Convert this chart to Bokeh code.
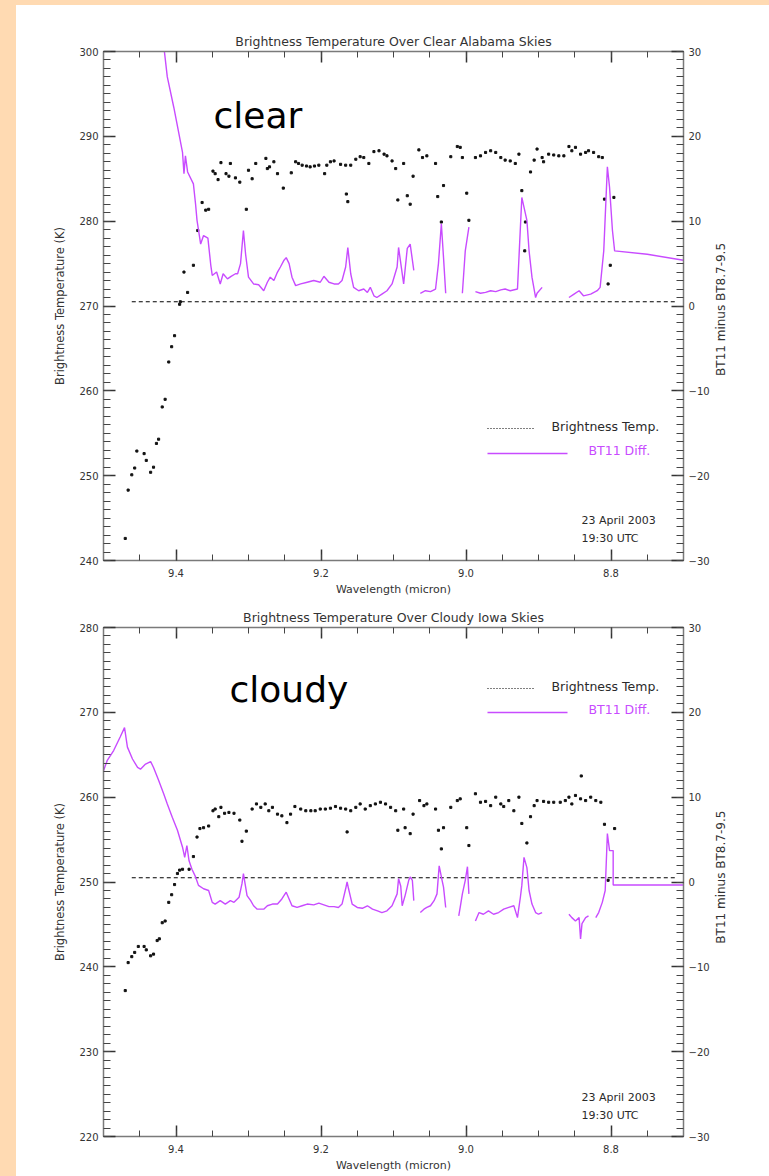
import math
import numpy as np
from bokeh.plotting import figure
from bokeh.models import Range1d, LinearAxis, FixedTicker, PrintfTickFormatter, Label, Div
from bokeh.layouts import row, column
from bokeh.embed import file_html
from bokeh.resources import INLINE

# ------------------------------------------------------------------ data
wl_major_ticks = [9.4, 9.2, 9.0, 8.8]
clear_bt_ticks = [240, 250, 260, 270, 280, 290, 300]
cloudy_bt_ticks = [220, 230, 240, 250, 260, 270, 280]
diff_ticks = [-30, -20, -10, 0, 10, 20, 30]
zero_line_level = 0.5
zero_line_extent = (9.461, 8.711)

# (wavelength micron, brightness temperature K) -- clear Alabama
clear_bt_pts = [
    (9.470, 242.6), (9.466, 248.3), (9.461, 250.1), (9.457, 250.9), (9.454, 252.9), (9.444, 252.6),
    (9.441, 251.8), (9.435, 250.4), (9.431, 251.0), (9.427, 253.8), (9.424, 254.3), (9.419, 258.1),
    (9.415, 259.0), (9.410, 263.4), (9.406, 265.2), (9.402, 266.5), (9.395, 270.2), (9.394, 270.5),
    (9.389, 274.0), (9.384, 271.6), (9.376, 274.8), (9.370, 278.9), (9.364, 282.2), (9.359, 281.3),
    (9.355, 281.4), (9.349, 285.9), (9.346, 285.6), (9.342, 284.9), (9.338, 286.9), (9.331, 285.6),
    (9.327, 285.3), (9.325, 286.8), (9.318, 285.1), (9.312, 284.6), (9.303, 281.4), (9.300, 286.0),
    (9.295, 285.0), (9.290, 286.8), (9.276, 287.4), (9.274, 286.2), (9.271, 286.4), (9.265, 287.0),
    (9.260, 285.6), (9.252, 283.9), (9.241, 285.7), (9.235, 287.0), (9.231, 286.8), (9.226, 286.6),
    (9.220, 286.5), (9.215, 286.4), (9.209, 286.5), (9.203, 286.6), (9.195, 285.6), (9.192, 286.6),
    (9.187, 287.0), (9.182, 287.1), (9.173, 286.7), (9.166, 286.6), (9.165, 283.2), (9.163, 282.3),
    (9.159, 286.6), (9.152, 287.3), (9.146, 287.6), (9.141, 287.5), (9.134, 286.8), (9.127, 288.2),
    (9.120, 288.3), (9.113, 287.9), (9.109, 287.7), (9.102, 287.1), (9.097, 286.2), (9.094, 282.5),
    (9.086, 286.8), (9.081, 283.0), (9.077, 282.0), (9.073, 285.3), (9.065, 288.4), (9.060, 287.5),
    (9.054, 287.7), (9.042, 286.8), (9.039, 282.9), (9.034, 279.9), (9.031, 284.2), (9.021, 287.6),
    (9.012, 288.8), (9.008, 288.7), (9.005, 287.5), (8.999, 283.3), (8.996, 280.1), (8.987, 287.5),
    (8.980, 287.7), (8.973, 288.1), (8.966, 288.3), (8.959, 288.1), (8.952, 287.5), (8.946, 287.2),
    (8.939, 287.1), (8.932, 286.8), (8.927, 287.9), (8.923, 283.6), (8.918, 279.9), (8.919, 276.5),
    (8.911, 285.8), (8.906, 287.2), (8.902, 288.5), (8.895, 287.5), (8.893, 287.0), (8.886, 287.9),
    (8.879, 287.8), (8.872, 287.7), (8.865, 287.7), (8.858, 288.8), (8.854, 288.3), (8.849, 288.7),
    (8.842, 287.9), (8.835, 288.1), (8.831, 288.3), (8.824, 288.1), (8.817, 287.6), (8.812, 287.5),
    (8.809, 282.6), (8.804, 272.6), (8.801, 274.8), (8.796, 282.8),
]

# (wavelength micron, BT11 minus BT8.7-9.5 K) -- clear Alabama; None = gap
clear_diff_pts = [
    (9.420, 33.0), (9.412, 27.0), (9.403, 23.4), (9.391, 18.1), (9.389, 15.6), (9.387, 17.7),
    (9.384, 15.8), (9.376, 14.4), (9.373, 12.0), (9.371, 10.1), (9.366, 7.3), (9.362, 8.3),
    (9.356, 8.0), (9.352, 4.8), (9.350, 3.6), (9.344, 4.0), (9.339, 2.6), (9.335, 3.8),
    (9.329, 3.2), (9.324, 3.5), (9.318, 3.8), (9.315, 3.8), (9.311, 5.0), (9.307, 8.9),
    (9.304, 6.1), (9.300, 3.4), (9.293, 2.6), (9.286, 2.5), (9.279, 1.8), (9.274, 2.8),
    (9.270, 3.4), (9.265, 3.0), (9.260, 4.0), (9.256, 4.6), (9.251, 5.4), (9.248, 5.7),
    (9.244, 5.0), (9.240, 3.4), (9.235, 2.4), (9.228, 2.6), (9.219, 2.8), (9.210, 3.0),
    (9.201, 2.8), (9.196, 3.5), (9.189, 2.8), (9.182, 2.6), (9.176, 2.6), (9.171, 3.0),
    (9.166, 4.6), (9.163, 6.9), (9.159, 3.8), (9.155, 2.2), (9.148, 1.8), (9.141, 2.0),
    (9.136, 1.6), (9.132, 2.2), (9.127, 1.2), (9.123, 1.0), (9.116, 1.4), (9.109, 1.8),
    (9.102, 2.6), (9.095, 4.6), (9.093, 6.9), (9.086, 2.6), (9.081, 6.8), (9.077, 7.3),
    (9.072, 4.2), (9.068, None), (9.063, 1.5), (9.056, 1.8), (9.049, 1.7), (9.042, 2.0),
    (9.038, 5.0), (9.034, 9.7), (9.031, 5.7), (9.028, 1.5), (9.016, None), (9.005, 1.5),
    (9.001, 6.5), (8.996, 9.3), (8.992, None), (8.987, 1.7), (8.980, 1.5), (8.973, 1.6),
    (8.966, 1.8), (8.959, 1.7), (8.952, 1.9), (8.946, 2.0), (8.939, 1.8), (8.929, 2.0),
    (8.923, 12.8), (8.916, 10.1), (8.913, 6.5), (8.909, 3.4), (8.904, 1.0), (8.902, 1.5),
    (8.895, 2.2), (8.875, None), (8.858, 1.0), (8.851, 1.4), (8.844, 1.8), (8.838, 1.2),
    (8.828, 1.4), (8.819, 1.8), (8.815, 2.2), (8.810, 6.5), (8.805, 16.4), (8.802, 14.0),
    (8.798, 8.9), (8.795, 6.5), (8.750, 6.1), (8.700, 5.4),
]

# cloudy Iowa
cloudy_bt_pts = [
    (9.470, 237.2), (9.466, 240.5), (9.461, 241.2), (9.457, 241.7), (9.452, 242.4), (9.444, 242.4),
    (9.441, 242.0), (9.435, 241.3), (9.431, 241.5), (9.426, 243.1), (9.423, 243.3), (9.419, 245.2),
    (9.415, 245.4), (9.410, 247.6), (9.406, 248.5), (9.402, 249.7), (9.398, 251.0), (9.395, 251.4),
    (9.391, 251.5), (9.382, 251.5), (9.376, 253.0), (9.371, 255.3), (9.367, 256.3), (9.362, 256.4),
    (9.355, 256.6), (9.349, 258.4), (9.346, 258.6), (9.341, 257.7), (9.338, 258.8), (9.333, 258.1),
    (9.327, 258.2), (9.320, 258.1), (9.312, 257.3), (9.309, 254.8), (9.303, 256.0), (9.295, 258.6),
    (9.289, 259.2), (9.283, 258.8), (9.277, 259.2), (9.272, 258.4), (9.267, 258.8), (9.260, 258.0),
    (9.254, 257.8), (9.247, 257.0), (9.242, 258.0), (9.236, 258.9), (9.228, 258.6), (9.221, 258.4),
    (9.214, 258.4), (9.208, 258.4), (9.201, 258.6), (9.194, 258.6), (9.187, 258.7), (9.180, 258.9),
    (9.173, 258.7), (9.166, 258.6), (9.164, 255.9), (9.159, 258.4), (9.152, 258.8), (9.146, 259.2),
    (9.139, 258.6), (9.132, 259.0), (9.125, 259.2), (9.118, 259.4), (9.111, 259.2), (9.104, 258.8),
    (9.097, 258.4), (9.094, 256.1), (9.086, 258.6), (9.084, 256.4), (9.077, 255.7), (9.073, 258.0),
    (9.064, 259.6), (9.058, 259.0), (9.054, 259.2), (9.042, 258.6), (9.038, 256.1), (9.034, 253.9),
    (9.031, 256.4), (9.021, 258.8), (9.012, 259.6), (9.008, 259.8), (8.999, 256.4), (8.996, 254.3),
    (8.987, 260.4), (8.980, 259.4), (8.973, 259.5), (8.966, 259.0), (8.959, 260.0), (8.952, 259.2),
    (8.948, 258.9), (8.941, 259.6), (8.934, 258.4), (8.927, 260.0), (8.923, 256.9), (8.916, 254.6),
    (8.911, 257.7), (8.906, 259.0), (8.902, 259.6), (8.893, 259.5), (8.886, 259.4), (8.879, 259.4),
    (8.870, 259.4), (8.863, 259.6), (8.858, 260.0), (8.854, 259.2), (8.849, 260.2), (8.842, 259.8),
    (8.841, 262.5), (8.835, 259.6), (8.828, 260.0), (8.821, 259.6), (8.814, 259.4), (8.809, 256.8),
    (8.804, 250.2), (8.795, 256.3),
]

cloudy_diff_pts = [
    (9.500, 13.1), (9.495, 14.3), (9.486, 15.5), (9.477, 17.1), (9.471, 18.2), (9.467, 15.9),
    (9.460, 14.5), (9.453, 13.5), (9.449, 13.3), (9.442, 13.9), (9.435, 14.2), (9.431, 13.5),
    (9.424, 12.0), (9.417, 10.4), (9.412, 9.2), (9.405, 7.6), (9.398, 6.1), (9.391, 4.1),
    (9.388, 2.9), (9.385, 4.3), (9.382, 2.5), (9.378, 1.5), (9.373, 0.6), (9.369, -0.4),
    (9.362, -0.8), (9.355, -1.0), (9.350, -2.4), (9.346, -2.6), (9.339, -2.2), (9.332, -2.6),
    (9.325, -2.2), (9.320, -2.4), (9.313, -1.8), (9.309, -0.2), (9.307, 1.0), (9.302, -1.6),
    (9.297, -2.2), (9.293, -2.8), (9.288, -3.2), (9.279, -3.2), (9.274, -2.8), (9.267, -2.6),
    (9.260, -2.6), (9.254, -2.0), (9.248, -1.2), (9.244, -2.0), (9.240, -2.8), (9.233, -3.0),
    (9.226, -2.8), (9.219, -2.6), (9.210, -2.7), (9.203, -2.5), (9.196, -2.7), (9.189, -2.9),
    (9.182, -2.9), (9.176, -3.0), (9.171, -2.6), (9.166, -0.8), (9.164, 0.0), (9.162, -0.8),
    (9.157, -2.6), (9.150, -3.0), (9.143, -3.1), (9.136, -2.8), (9.129, -3.2), (9.122, -3.4),
    (9.116, -3.6), (9.109, -3.4), (9.102, -2.8), (9.095, -1.4), (9.093, 0.4), (9.090, -0.5),
    (9.088, -2.8), (9.084, -1.6), (9.079, 0.2), (9.077, 0.6), (9.074, 0.2), (9.072, -2.2),
    (9.068, None), (9.063, -3.6), (9.058, -3.2), (9.054, -3.0), (9.049, -2.8), (9.044, -2.2),
    (9.040, -1.4), (9.037, 1.9), (9.033, 0.2), (9.031, -0.6), (9.028, -3.0), (9.018, None),
    (9.010, -4.0), (9.008, -3.0), (9.005, -1.4), (9.001, 0.2), (8.998, 1.8), (8.996, -1.4),
    (8.992, None), (8.987, -4.6), (8.982, -3.6), (8.976, -3.8), (8.969, -3.4), (8.962, -3.8),
    (8.955, -3.6), (8.948, -3.2), (8.941, -3.0), (8.934, -2.8), (8.929, -4.2), (8.927, -3.0),
    (8.925, -1.8), (8.923, -0.4), (8.920, 2.9), (8.916, 1.7), (8.913, -1.0), (8.909, -2.6),
    (8.904, -3.6), (8.900, -3.8), (8.895, -3.6), (8.875, None), (8.858, -3.8), (8.854, -4.2),
    (8.849, -4.6), (8.844, -4.2), (8.842, -6.7), (8.840, -4.9), (8.835, -4.2), (8.831, -4.0),
    (8.826, None), (8.821, -4.2), (8.817, -3.6), (8.812, -2.4), (8.808, -1.0), (8.805, 5.7),
    (8.802, 3.7), (8.797, 3.7), (8.797, -0.35), (8.700, -0.35),
]

# ------------------------------------------------------------------ style / layout
PEACH = "#FFDAB2"
MAGENTA = "#C84BFF"
INK = "#2a2a2a"
FONT = "DejaVu Sans"
PAGE_W = 769
PAD_LEFT = 16
SPLIT_PX = 712                       # page x where the right-title strip begins
FIG_W = SPLIT_PX - PAD_LEFT
SIDE_W = PAGE_W - SPLIT_PX
FRAME_LEFT_PX, FRAME_RIGHT_PX = 103, 683     # page pixels of frame edges
FRAME_H = 509
WL_LEFT, WL_RIGHT = 9.5, 8.7


def wl_at(px):
    return WL_LEFT - (px - FRAME_LEFT_PX) / (FRAME_RIGHT_PX - FRAME_LEFT_PX) * (WL_LEFT - WL_RIGHT)


def split(pts):
    xs = [p[0] for p in pts]
    ys = [np.nan if p[1] is None else p[1] for p in pts]
    return xs, ys


def style_axis(ax, tick_major, tick_minor):
    ax.axis_line_color = "#7a7a7a"
    ax.axis_line_width = 1.5
    ax.major_tick_in = tick_major
    ax.major_tick_out = 0
    ax.minor_tick_in = tick_minor
    ax.minor_tick_out = 0
    ax.major_tick_line_color = "#333333"
    ax.minor_tick_line_color = "#444444"
    ax.major_tick_line_width = 1.5
    ax.minor_tick_line_width = 1
    ax.major_label_text_font = FONT
    ax.major_label_text_font_size = "10px"
    ax.major_label_text_color = "#333333"
    ax.axis_label_text_font = FONT
    ax.axis_label_text_font_style = "normal"
    ax.axis_label_text_color = "#333333"


def panel(title, ylo, yhi, bt_ticks, bt_pts, diff_pts, tag, frame_top_px, fig_h, border_top,
          tag_px, legend_px, date_px):
    def val_at(py):
        return yhi - (py - frame_top_px) / FRAME_H * (yhi - ylo)

    p = figure(width=FIG_W, height=fig_h, x_range=Range1d(WL_LEFT, WL_RIGHT),
               y_range=Range1d(ylo, yhi), output_backend="svg", toolbar_location=None,
               min_border_left=FRAME_LEFT_PX - PAD_LEFT, min_border_right=SPLIT_PX - FRAME_RIGHT_PX,
               min_border_top=border_top, min_border_bottom=fig_h - border_top - FRAME_H,
               background_fill_color="white", border_fill_color="white",
               outline_line_color=None)
    p.extra_y_ranges = {"diff": Range1d(-30, 30)}
    p.grid.visible = False

    minor_wl = list(np.round(np.arange(8.7, 9.5001, 0.05), 3))
    x_ticker = FixedTicker(ticks=wl_major_ticks, minor_ticks=minor_wl)
    y_minor = list(range(ylo, yhi + 1))
    y_ticker = FixedTicker(ticks=bt_ticks, minor_ticks=y_minor)
    d_ticker = FixedTicker(ticks=diff_ticks, minor_ticks=list(range(-30, 31)))

    xa = p.xaxis[0]
    xa.ticker = x_ticker
    xa.formatter = PrintfTickFormatter(format="%.1f")
    xa.axis_label = "Wavelength (micron)"
    style_axis(xa, 11, 6)
    xa.major_label_standoff = 8
    xa.axis_label_standoff = 3
    xa.axis_label_text_font_size = "11px"

    ya = p.yaxis[0]
    ya.ticker = y_ticker
    ya.axis_label = "Brightness Temperature (K)"
    style_axis(ya, 12, 7)
    ya.major_label_standoff = 5
    ya.axis_label_standoff = 9
    ya.axis_label_text_font_size = "11.5px"

    top = LinearAxis(ticker=x_ticker)
    style_axis(top, 11, 6)
    top.major_label_text_color = None
    top.major_label_text_font_size = "1px"
    top.major_label_standoff = 0
    p.add_layout(top, "above")

    ra = LinearAxis(y_range_name="diff", ticker=d_ticker)
    style_axis(ra, 12, 7)
    ra.major_label_standoff = 5
    p.add_layout(ra, "right")

    p.title.text = title
    p.title.align = "center"
    p.title.text_font = FONT
    p.title.text_font_size = "12.5px"
    p.title.text_font_style = "normal"
    p.title.text_color = "#333333"
    p.title.standoff = 6

    # zero reference line
    p.line(list(zero_line_extent), [zero_line_level, zero_line_level], y_range_name="diff",
           line_color="black", line_width=1, line_dash="4 3")

    bx, by = split(bt_pts)
    p.scatter(bx, by, marker="square", size=2.1, color="#111111")
    dx, dy = split(diff_pts)
    p.line(dx, dy, y_range_name="diff", line_color=MAGENTA, line_width=1.4)

    # big tag text
    p.add_layout(Label(x=wl_at(tag_px[0]), y=val_at(tag_px[1]), text=tag, text_font=FONT,
                       text_font_size="36px", text_color="black", text_align="left",
                       text_baseline="alphabetic"))

    # legend
    ly1, ly2 = legend_px
    p.line([wl_at(487), wl_at(533)], [val_at(ly1), val_at(ly1)], line_color="black",
           line_width=1.2, line_dash="1 2")
    p.add_layout(Label(x=wl_at(551), y=val_at(ly1 - 2), text="Brightness Temp.", text_font=FONT,
                       text_font_size="12.5px", text_color=INK, text_baseline="middle"))
    p.line([wl_at(487), wl_at(567)], [val_at(ly2), val_at(ly2)], line_color=MAGENTA,
           line_width=1.6)
    p.add_layout(Label(x=wl_at(588), y=val_at(ly2 - 3), text="BT11 Diff.", text_font=FONT,
                       text_font_size="12.5px", text_color=MAGENTA, text_baseline="middle"))

    # date
    d1, d2 = date_px
    p.add_layout(Label(x=wl_at(581), y=val_at(d1), text="23 April 2003", text_font=FONT,
                       text_font_size="11px", text_color=INK, text_baseline="middle"))
    p.add_layout(Label(x=wl_at(581), y=val_at(d2), text="19:30 UTC", text_font=FONT,
                       text_font_size="11px", text_color=INK, text_baseline="middle"))

    # strip to the right holding the right-axis title (reads bottom-to-top)
    s = figure(width=SIDE_W, height=fig_h, x_range=Range1d(0, SIDE_W), y_range=Range1d(0, fig_h),
               output_backend="svg", toolbar_location=None, x_axis_type=None, y_axis_type=None,
               min_border=0, min_border_left=0, min_border_right=0, min_border_top=0,
               min_border_bottom=0, outline_line_color=None, background_fill_color="white",
               border_fill_color="white")
    s.add_layout(Label(x=720 - SPLIT_PX, y=fig_h - (border_top + FRAME_H / 2),
                       text="BT11 minus BT8.7-9.5", angle=math.pi / 2, text_font=FONT,
                       text_font_size="12px", text_color="#333333", text_align="center",
                       text_baseline="middle"))
    return row(p, s, spacing=0)


r1 = panel("Brightness Temperature Over Clear Alabama Skies", 240, 300, clear_bt_ticks,
           clear_bt_pts, clear_diff_pts, "clear", frame_top_px=51, fig_h=593, border_top=46,
           tag_px=(213, 115), legend_px=(428, 453), date_px=(520, 538))
r2 = panel("Brightness Temperature Over Cloudy Iowa Skies", 220, 280, cloudy_bt_ticks,
           cloudy_bt_pts, cloudy_diff_pts, "cloudy", frame_top_px=627, fig_h=578, border_top=29,
           tag_px=(229, 689), legend_px=(688, 712), date_px=(1097, 1115))

left_pad = Div(width=PAD_LEFT, height=1176, margin=0, styles={"background-color": PEACH})
top_pad = Div(width=PAGE_W - PAD_LEFT, height=5, margin=0, styles={"background-color": PEACH})
layout = row(left_pad, column(top_pad, r1, r2, spacing=0), spacing=0,
             styles={"background-color": "white"})

open("out.html", "w").write(file_html(layout, INLINE))
